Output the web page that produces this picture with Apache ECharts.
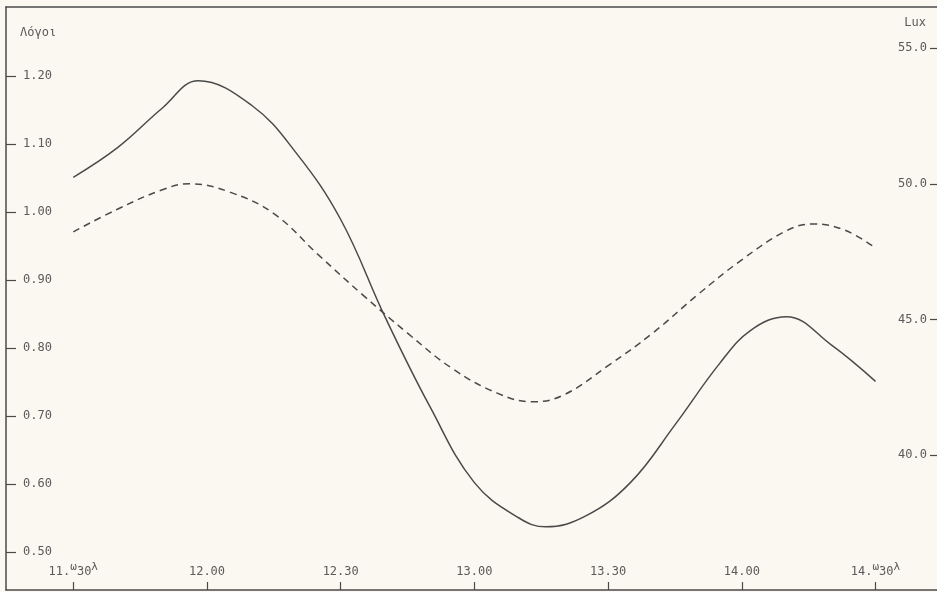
<!DOCTYPE html>
<html>
<head>
<meta charset="utf-8">
<script src="https://cdn.jsdelivr.net/npm/echarts@6/dist/echarts.min.js"></script>
<style>
  html, body { margin: 0; padding: 0; background: #faf8f0; }
  #chart { width: 937px; height: 592px; }
</style>
</head>
<body>
<div id="chart"></div>
<script>
// minutes after 11.30
var ratioMinutes = [0, 10, 20, 28, 40, 50, 60, 70, 80, 90, 100, 106, 115, 125, 135, 145, 152, 160, 170, 180];
// solid curve, left axis (Λόγοι)
var ratioValues = [1.051, 1.095, 1.153, 1.193, 1.157, 1.087, 0.989, 0.845, 0.714, 0.602,
  0.550, 0.537, 0.553, 0.602, 0.687, 0.777, 0.826, 0.846, 0.805, 0.751];

var luxMinutes = [0, 10, 20, 26, 35, 45, 55, 65, 75, 85, 95, 103, 110, 120, 130, 140, 150, 160, 166, 173, 180];
// dashed curve, right axis (Lux)
var luxValues = [48.23, 49.07, 49.78, 50.00, 49.70, 48.90, 47.38, 45.90, 44.50, 43.20,
  42.30, 41.97, 42.22, 43.30, 44.50, 45.90, 47.20, 48.27, 48.52, 48.30, 47.64];

var timeTicks = [0, 30, 60, 90, 120, 150, 180];
var timeLabels = ['{a|11.}{s|ω}{a|30}{s|λ}', '12.00', '12.30', '13.00', '13.30', '14.00', '{a|14.}{s|ω}{a|30}{s|λ}'];
var ratioTicks = [0.5, 0.6, 0.7, 0.8, 0.9, 1.0, 1.1, 1.2];
var luxTicks = [40, 45, 50, 55];

var ink = '#4a4a4a';
var textInk = '#5a5a5a';
var font = 'DejaVu Sans Mono';

function pairs(xs, ys) {
  var out = [];
  for (var i = 0; i < xs.length; i++) out.push([xs[i], ys[i]]);
  return out;
}

var chart = echarts.init(document.getElementById('chart'));
chart.setOption({
  backgroundColor: '#faf8f0',
  animation: false,
  grid: { left: 6, right: 0, top: 7, bottom: 2 },
  xAxis: [{
    type: 'value', position: 'bottom', min: -15.1, max: 193.8,
    axisLine: { show: true, onZero: false, lineStyle: { color: ink, width: 1.5 } },
    axisTick: { show: true, inside: true, length: 8, customValues: timeTicks, lineStyle: { color: ink, width: 1.2 } },
    axisLabel: {
      inside: true, margin: 12, customValues: timeTicks,
      color: textInk, fontFamily: font, fontSize: 12,
      formatter: function (v) { return timeLabels[timeTicks.indexOf(v)]; },
      rich: {
        a: { fontFamily: font, fontSize: 12, lineHeight: 16, verticalAlign: 'bottom', color: textInk },
        s: { fontFamily: font, fontSize: 11, lineHeight: 11, verticalAlign: 'top', color: textInk }
      }
    },
    splitLine: { show: false }
  }, {
    type: 'value', position: 'top', min: -15.1, max: 193.8,
    axisLine: { show: true, onZero: false, lineStyle: { color: ink, width: 1.5 } },
    axisTick: { show: false }, axisLabel: { show: false }, splitLine: { show: false }
  }],
  yAxis: [{
    type: 'value', position: 'left', min: 0.4441, max: 1.3015,
    name: 'Λόγοι', nameLocation: 'end', nameGap: -32,
    nameTextStyle: { color: textInk, fontFamily: font, fontSize: 12, align: 'left', padding: [0, 0, 0, 14] },
    axisLine: { show: true, onZero: false, lineStyle: { color: ink, width: 1.5 } },
    axisTick: { show: true, inside: true, length: 10, customValues: ratioTicks, lineStyle: { color: ink, width: 1.2 } },
    axisLabel: {
      inside: true, margin: 17, customValues: ratioTicks,
      color: textInk, fontFamily: font, fontSize: 12,
      formatter: function (v) { return v.toFixed(2); }
    },
    splitLine: { show: false }
  }, {
    type: 'value', position: 'right', min: 35.04, max: 56.51,
    name: 'Lux', nameLocation: 'end', nameGap: -22,
    nameTextStyle: { color: textInk, fontFamily: font, fontSize: 12, align: 'right', padding: [0, 11, 0, 0] },
    axisLine: { show: false, onZero: false },
    axisTick: { show: true, inside: true, length: 7, customValues: luxTicks, lineStyle: { color: ink, width: 1.2 } },
    axisLabel: {
      inside: true, margin: 10, customValues: luxTicks,
      color: textInk, fontFamily: font, fontSize: 12,
      formatter: function (v) { return v.toFixed(1); }
    },
    splitLine: { show: false }
  }],
  series: [{
    type: 'line', xAxisIndex: 0, yAxisIndex: 0, smooth: 0.4, symbol: 'none',
    lineStyle: { color: ink, width: 1.5 },
    data: pairs(ratioMinutes, ratioValues)
  }, {
    type: 'line', xAxisIndex: 0, yAxisIndex: 1, smooth: 0.4, symbol: 'none',
    lineStyle: { color: ink, width: 1.5, type: [7, 5] },
    data: pairs(luxMinutes, luxValues)
  }]
});
</script>
</body>
</html>
